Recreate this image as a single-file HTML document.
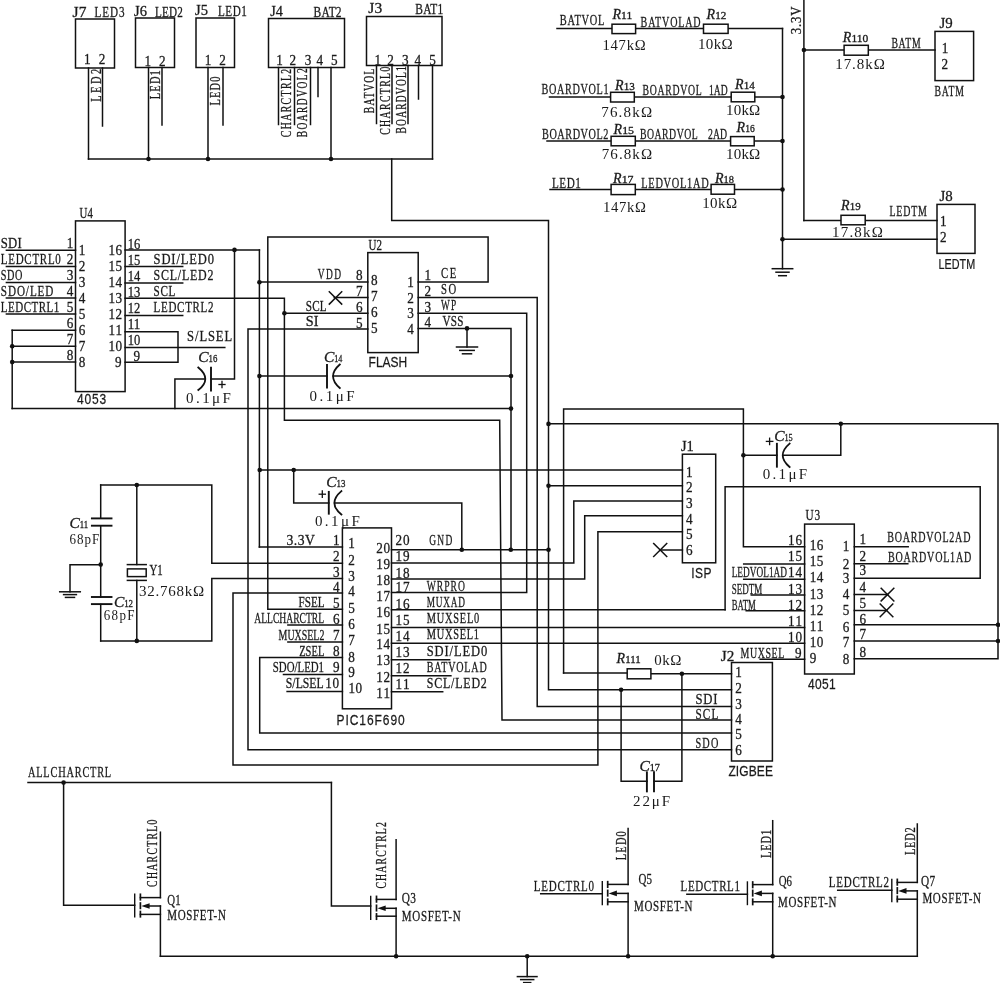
<!DOCTYPE html>
<html><head><meta charset="utf-8"><style>
html,body{margin:0;padding:0;background:#fff;}
svg{display:block;will-change:transform;}
</style></head><body>
<svg width="1000" height="983" viewBox="0 0 1000 983">
<rect x="0" y="0" width="1000" height="983" fill="#fff"/>
<g fill="none" stroke="#111" stroke-width="1.5" stroke-linecap="square">
<rect x="75.5" y="19" width="39" height="49"/>
<rect x="135.5" y="18" width="39" height="49.5"/>
<rect x="196" y="18" width="38.5" height="49.5"/>
<rect x="268.5" y="18.5" width="76" height="49"/>
<rect x="366.5" y="16.5" width="75.5" height="49"/>
<path d="M88.5 68 L88.5 159"/>
<path d="M102.5 68 L102.5 126"/>
<path d="M148.5 67.5 L148.5 159"/>
<path d="M162 67.5 L162 125"/>
<path d="M208 67.5 L208 159"/>
<path d="M223 67.5 L223 125"/>
<path d="M278.5 67.5 L278.5 124.5"/>
<path d="M294.5 67.5 L294.5 124.5"/>
<path d="M310.5 67.5 L310.5 124.5"/>
<path d="M318 67.5 L318 96.5"/>
<path d="M331 67.5 L331 159"/>
<path d="M376.5 65.5 L376.5 123.5"/>
<path d="M392 65.5 L392 123.5"/>
<path d="M408 65.5 L408 123.5"/>
<path d="M418.5 65.5 L418.5 99"/>
<path d="M432.5 65.5 L432.5 159"/>
<path d="M88.5 159 L432.5 159"/>
<circle cx="148.5" cy="159" r="2.3" fill="#111" stroke="none"/>
<circle cx="208" cy="159" r="2.3" fill="#111" stroke="none"/>
<circle cx="331" cy="159" r="2.3" fill="#111" stroke="none"/>
<path d="M391.7 159 L391.7 220.5 L548.5 220.5 L548.5 689.7 L731.5 689.7"/>
<circle cx="548.5" cy="423.9" r="2.3" fill="#111" stroke="none"/>
<circle cx="548.5" cy="485.7" r="2.3" fill="#111" stroke="none"/>
<circle cx="548.5" cy="549.8" r="2.3" fill="#111" stroke="none"/>
<circle cx="621.1" cy="689.7" r="2.3" fill="#111" stroke="none"/>
<path d="M557 28.5 L782.5 28.5"/>
<path d="M782.5 28.5 L782.5 268.7"/>
<path d="M772.3 268.7 L792.7 268.7"/>
<path d="M776 272.2 L789 272.2"/>
<path d="M778.7 275.7 L786.3 275.7"/>
<path d="M549.5 97 L782.5 97"/>
<circle cx="782.5" cy="97" r="2.3" fill="#111" stroke="none"/>
<path d="M547 141 L782.5 141"/>
<circle cx="782.5" cy="141" r="2.3" fill="#111" stroke="none"/>
<path d="M550 189.5 L782.5 189.5"/>
<circle cx="782.5" cy="189.5" r="2.3" fill="#111" stroke="none"/>
<path d="M782.5 239.2 L937 239.2"/>
<circle cx="782.5" cy="239.2" r="2.3" fill="#111" stroke="none"/>
<rect x="612" y="24.2" width="23.6" height="9.4" fill="#fff"/>
<rect x="703.5" y="24.2" width="24.6" height="9.2" fill="#fff"/>
<rect x="610.6" y="92.3" width="23.7" height="9.7" fill="#fff"/>
<rect x="731.2" y="92.2" width="23.6" height="9.6" fill="#fff"/>
<rect x="611.1" y="136.3" width="24.2" height="9.5" fill="#fff"/>
<rect x="730.6" y="136.6" width="23.6" height="9.2" fill="#fff"/>
<rect x="611.1" y="184.4" width="24.2" height="10.2" fill="#fff"/>
<rect x="711.1" y="184.4" width="23.4" height="9.8" fill="#fff"/>
<path d="M803.9 0 L803.9 220.6"/>
<circle cx="803.9" cy="50" r="2.3" fill="#111" stroke="none"/>
<path d="M803.9 50 L935 50"/>
<rect x="844.1" y="45.3" width="24.2" height="9.9" fill="#fff"/>
<path d="M803.9 220.6 L937 220.6"/>
<rect x="841" y="215.3" width="24.2" height="9.5" fill="#fff"/>
<rect x="935" y="31.4" width="38.6" height="49.2"/>
<rect x="937" y="204.4" width="38" height="49"/>
<rect x="75.5" y="220.9" width="49.6" height="170.7"/>
<path d="M6.4 250.2 L75.5 250.2"/>
<path d="M6.4 266.6 L75.5 266.6"/>
<path d="M6.4 282.4 L75.5 282.4"/>
<path d="M6.4 298 L75.5 298"/>
<path d="M6.4 314 L75.5 314"/>
<path d="M12.2 330.2 L75.5 330.2"/>
<path d="M12.2 346.2 L75.5 346.2"/>
<path d="M12.2 362.1 L75.5 362.1"/>
<path d="M12.2 330.2 L12.2 408.6"/>
<circle cx="12.2" cy="346.2" r="2.3" fill="#111" stroke="none"/>
<circle cx="12.2" cy="362.1" r="2.3" fill="#111" stroke="none"/>
<path d="M12.2 408.6 L511 408.6"/>
<circle cx="511" cy="408.6" r="2.3" fill="#111" stroke="none"/>
<path d="M125.1 249.9 L259.4 249.9"/>
<path d="M125.1 266.6 L182.7 266.6"/>
<path d="M125.1 282.9 L182.7 282.9"/>
<path d="M125.1 315.6 L182.7 315.6"/>
<path d="M125.1 298.2 L284.4 298.2 L284.4 420.2 L499.7 420.2 L502 720.1 L731.5 720.1"/>
<path d="M125.1 331.7 L178 331.7 L178 362.2 L125.1 362.2"/>
<path d="M125.1 347.4 L224.8 347.4"/>
<circle cx="234.5" cy="249.9" r="2.3" fill="#111" stroke="none"/>
<path d="M234.5 249.9 L234.5 379 L211 379"/>
<path d="M211 367.8 L211 390.5" stroke-width="1.9"/>
<path d="M198.3 367.5 Q212.3 379 198.3 390" stroke-width="1.8"/>
<path d="M205 379 L174.9 379 L174.9 408.6"/>
<path d="M259.4 249.9 L259.4 547"/>
<circle cx="259.4" cy="282.3" r="2.3" fill="#111" stroke="none"/>
<circle cx="259.4" cy="376.1" r="2.3" fill="#111" stroke="none"/>
<circle cx="259.7" cy="470" r="2.3" fill="#111" stroke="none"/>
<rect x="367.8" y="252.6" width="50.4" height="100"/>
<path d="M259.4 281.9 L367.8 281.9"/>
<path d="M334.3 297.4 L367.8 297.4"/>
<path d="M329.3 291.7 L341.7 304.1"/>
<path d="M329.3 304.1 L341.7 291.7"/>
<path d="M284.4 313.2 L367.8 313.2"/>
<circle cx="284.4" cy="313.2" r="2.3" fill="#111" stroke="none"/>
<path d="M367.8 329 L248 329 L248 749.8 L731.5 749.8"/>
<path d="M418.2 281.9 L488.1 281.9 L488.1 236.9 L267.8 236.9 L267.8 609.2 L342.4 609.2"/>
<path d="M418.2 297.4 L537.2 297.4 L537.2 706.5 L731.5 706.5"/>
<path d="M418.2 313.2 L526.7 313.2 L526.7 592.5 L391.5 592.5"/>
<path d="M418.2 328.4 L511 328.4 L511 549.8"/>
<circle cx="467" cy="328.4" r="2.3" fill="#111" stroke="none"/>
<path d="M467 328.4 L467 347"/>
<path d="M456.5 347 L477.5 347"/>
<path d="M459.8 350.4 L474.2 350.4"/>
<path d="M462.5 353.8 L471.5 353.8"/>
<path d="M259.4 376 L327 376"/>
<path d="M327 365 L327 387.5" stroke-width="1.9"/>
<path d="M339.8 364.5 Q326.3 376.2 339.8 388" stroke-width="1.8"/>
<path d="M333.2 376 L511 376"/>
<circle cx="511" cy="376" r="2.3" fill="#111" stroke="none"/>
<path d="M563.6 673 L563.6 409 L743.4 409 L743.4 546.7 L804.6 546.7"/>
<path d="M563.6 673 L627.2 673"/>
<path d="M548.5 423.8 L998 423.8 L998 658.7 L854.3 658.7"/>
<circle cx="998" cy="624.8" r="2.3" fill="#111" stroke="none"/>
<circle cx="998" cy="641" r="2.3" fill="#111" stroke="none"/>
<circle cx="840.8" cy="423.8" r="2.3" fill="#111" stroke="none"/>
<path d="M840.8 423.8 L840.8 455.3 L783 455.3"/>
<circle cx="743.4" cy="455.3" r="2.3" fill="#111" stroke="none"/>
<path d="M743.4 455.3 L776.9 455.3"/>
<path d="M776.9 443.8 L776.9 466.7" stroke-width="1.9"/>
<path d="M789.6 443.6 Q775.8 455.3 789.6 467" stroke-width="1.8"/>
<path d="M259.7 470 L682.4 470"/>
<circle cx="293.7" cy="470" r="2.3" fill="#111" stroke="none"/>
<path d="M548.5 485.7 L682.4 485.7"/>
<path d="M725.1 609.8 L725.1 486.8 L980.2 486.8 L980.2 578.2 L854.3 578.2"/>
<path d="M682.4 501 L573.8 501 L573.8 563 L391.5 563"/>
<path d="M682.4 515.7 L584.7 515.7 L584.7 578.9 L391.5 578.9"/>
<path d="M682.4 531.7 L597.9 531.7 L597.9 765 L233 765 L233 592.9 L342.4 592.9"/>
<path d="M660.2 550 L682.4 550"/>
<path d="M653.7 543.5 L666.7 556.5"/>
<path d="M653.7 556.5 L666.7 543.5"/>
<rect x="682.4" y="454.2" width="33.3" height="108.6"/>
<path d="M293.7 470 L293.7 503.1 L328.8 503.1"/>
<path d="M328.8 491.9 L328.8 513.7" stroke-width="1.9"/>
<path d="M341.4 491.1 Q327.4 503 341.4 514.5" stroke-width="1.8"/>
<path d="M334.6 503.1 L461.8 503.1 L461.8 549.8"/>
<circle cx="461.8" cy="549.8" r="2.3" fill="#111" stroke="none"/>
<circle cx="510.8" cy="549.8" r="2.3" fill="#111" stroke="none"/>
<path d="M391.5 549.8 L548.5 549.8"/>
<rect x="342.4" y="527.9" width="49.1" height="180.9"/>
<path d="M259.4 547 L342.4 547"/>
<path d="M100.7 485 L211.8 485 L211.8 563.3 L342.4 563.3"/>
<path d="M100.7 640.9 L211.8 640.9 L211.8 578.6 L342.4 578.6"/>
<path d="M287.9 625 L342.4 625"/>
<path d="M287.9 642 L342.4 642"/>
<path d="M342.4 657.5 L259.7 657.5 L259.7 733 L731.5 733"/>
<path d="M283.5 674.6 L342.4 674.6"/>
<path d="M287.1 691.4 L342.4 691.4"/>
<path d="M391.5 609.8 L725.1 609.8"/>
<path d="M391.5 627.4 L804.6 627.4"/>
<path d="M391.5 643.3 L804.6 643.3"/>
<path d="M391.5 659.7 L449.6 659.7"/>
<path d="M391.5 675.7 L450.9 675.7"/>
<path d="M391.5 691.7 L442.7 691.7"/>
<rect x="804.6" y="524.1" width="49.7" height="149.9"/>
<path d="M743.7 564 L804.6 564"/>
<path d="M743.7 579.2 L804.6 579.2"/>
<path d="M751.3 595 L804.6 595"/>
<path d="M746.2 610.8 L804.6 610.8"/>
<path d="M760.2 659.2 L804.6 659.2"/>
<path d="M854.3 546.7 L908.2 546.7"/>
<path d="M854.3 563.8 L907.8 563.8"/>
<path d="M854.3 594.6 L887.5 594.6"/>
<path d="M881.2 588.3 L893.8 600.9"/>
<path d="M881.2 600.9 L893.8 588.3"/>
<path d="M854.3 610.4 L886.5 610.4"/>
<path d="M880.2 604.1 L892.8 616.7"/>
<path d="M880.2 616.7 L892.8 604.1"/>
<path d="M854.3 624.8 L998 624.8"/>
<path d="M854.3 641 L998 641"/>
<rect x="731.5" y="662.5" width="40.9" height="98.5"/>
<path d="M650.9 673.7 L731.5 673.7"/>
<circle cx="681.9" cy="673.7" r="2.3" fill="#111" stroke="none"/>
<rect x="627.2" y="668.8" width="23.7" height="10" fill="#fff"/>
<path d="M621.1 689.7 L621.1 781.3 L647 781.3"/>
<path d="M646.9 772.3 L646.9 791.4" stroke-width="1.9"/>
<path d="M654 772.3 L654 791.4" stroke-width="1.9"/>
<path d="M654.2 781.3 L681.9 781.3 L681.9 673.7"/>
<path d="M100.7 485 L100.7 518.1"/>
<path d="M91.9 518.4 L111.5 518.4" stroke-width="1.9"/>
<path d="M91.9 525.7 L111.5 525.7" stroke-width="1.9"/>
<path d="M100.7 526 L100.7 597.2"/>
<circle cx="100.7" cy="564.6" r="2.3" fill="#111" stroke="none"/>
<path d="M100.7 564.8 L70 564.8 L70 591.8"/>
<path d="M59.7 591.8 L80.3 591.8"/>
<path d="M63.6 594.6 L76.4 594.6"/>
<path d="M65.5 597.4 L74.5 597.4"/>
<path d="M91.9 597 L111.5 597" stroke-width="1.9"/>
<path d="M91.9 604.1 L111.5 604.1" stroke-width="1.9"/>
<path d="M100.7 604.5 L100.7 640.9"/>
<circle cx="136.8" cy="485" r="2.3" fill="#111" stroke="none"/>
<circle cx="136.8" cy="640.9" r="2.3" fill="#111" stroke="none"/>
<path d="M136.8 485 L136.8 564.6"/>
<path d="M127.4 564.6 L146.2 564.6"/>
<rect x="127.4" y="568.9" width="18.8" height="7.7"/>
<path d="M127.4 580.4 L146.2 580.4"/>
<path d="M136.8 580.4 L136.8 640.9"/>
<path d="M28 782.6 L331.4 782.6"/>
<circle cx="63.6" cy="782.6" r="2.3" fill="#111" stroke="none"/>
<path d="M331.4 782.6 L331.4 906 L370.7 906"/>
<path d="M63.6 782.6 L63.6 905.3 L134.7 905.3"/>
<path d="M160.4 956.3 L917.3 956.3"/>
<path d="M134.7 894.3 L134.7 916.8" stroke-width="1.4"/>
<path d="M140.4 894.3 L140.4 899.8" stroke-width="1.7"/>
<path d="M140.4 903 L140.4 908.4" stroke-width="1.7"/>
<path d="M140.4 911.5 L140.4 916.8" stroke-width="1.7"/>
<path d="M140.4 897.6 L160.4 897.6"/>
<path d="M148.4 906 L160.4 906"/>
<path d="M140.4 914.4 L160.4 914.4"/>
<path d="M160.4 832.2 L160.4 897.6"/>
<path d="M160.4 906 L160.4 956.3"/>
<path d="M141.3 906 L149.6 903.2 L149.6 908.8 Z" fill="#111" stroke="none"/>
<path d="M370.7 896.4 L370.7 919.2" stroke-width="1.4"/>
<path d="M376.5 896.4 L376.5 901.9" stroke-width="1.7"/>
<path d="M376.5 905.3 L376.5 910.7" stroke-width="1.7"/>
<path d="M376.5 913.9 L376.5 919.2" stroke-width="1.7"/>
<path d="M376.5 899.4 L396.1 899.4"/>
<path d="M384.5 908.3 L396.1 908.3"/>
<path d="M376.5 916.2 L396.1 916.2"/>
<path d="M396.1 839.8 L396.1 899.4"/>
<path d="M396.1 908.3 L396.1 956.3"/>
<path d="M377.4 908.3 L385.7 905.5 L385.7 911.1 Z" fill="#111" stroke="none"/>
<circle cx="396.1" cy="956.3" r="2.3" fill="#111" stroke="none"/>
<path d="M602.3 881.7 L602.3 904.5" stroke-width="1.4"/>
<path d="M607.7 881.7 L607.7 887.2" stroke-width="1.7"/>
<path d="M607.7 890.4 L607.7 895.8" stroke-width="1.7"/>
<path d="M607.7 899.2 L607.7 904.5" stroke-width="1.7"/>
<path d="M607.7 884.4 L628.1 884.4"/>
<path d="M615.7 893.4 L628.1 893.4"/>
<path d="M607.7 901.8 L628.1 901.8"/>
<path d="M628.1 828.4 L628.1 884.4"/>
<path d="M628.1 893.4 L628.1 956.3"/>
<path d="M608.6 893.4 L616.9 890.6 L616.9 896.2 Z" fill="#111" stroke="none"/>
<circle cx="628.1" cy="956.3" r="2.3" fill="#111" stroke="none"/>
<path d="M747.4 882 L747.4 904.5" stroke-width="1.4"/>
<path d="M752.7 882 L752.7 887.5" stroke-width="1.7"/>
<path d="M752.7 890.4 L752.7 895.8" stroke-width="1.7"/>
<path d="M752.7 899.2 L752.7 904.5" stroke-width="1.7"/>
<path d="M752.7 884.6 L772.7 884.6"/>
<path d="M760.7 893.4 L772.7 893.4"/>
<path d="M752.7 901.8 L772.7 901.8"/>
<path d="M772.7 820.7 L772.7 884.6"/>
<path d="M772.7 893.4 L772.7 956.3"/>
<path d="M753.6 893.4 L761.9 890.6 L761.9 896.2 Z" fill="#111" stroke="none"/>
<circle cx="772.7" cy="956.3" r="2.3" fill="#111" stroke="none"/>
<path d="M891.8 879.4 L891.8 901.6" stroke-width="1.4"/>
<path d="M897.3 879.4 L897.3 884.9" stroke-width="1.7"/>
<path d="M897.3 887.9 L897.3 893.3" stroke-width="1.7"/>
<path d="M897.3 896.3 L897.3 901.6" stroke-width="1.7"/>
<path d="M897.3 882.4 L917.3 882.4"/>
<path d="M905.3 890.9 L917.3 890.9"/>
<path d="M897.3 899.2 L917.3 899.2"/>
<path d="M917.3 824 L917.3 882.4"/>
<path d="M917.3 890.9 L917.3 956.3"/>
<path d="M898.2 890.9 L906.5 888.1 L906.5 893.7 Z" fill="#111" stroke="none"/>
<path d="M540.7 893.7 L602.3 893.7"/>
<path d="M686.9 894.3 L747.4 894.3"/>
<path d="M837.7 890.3 L891.8 890.3"/>
<circle cx="527.2" cy="956.3" r="2.3" fill="#111" stroke="none"/>
<path d="M527.2 956.3 L527.2 976.6"/>
<path d="M517.4 976.6 L537 976.6"/>
<path d="M520.7 979.6 L533.7 979.6"/>
<path d="M523.7 982.6 L530.7 982.6"/>
<path d="M219 384.5 L225 384.5" stroke-width="1.3"/>
<path d="M222 381.5 L222 387.5" stroke-width="1.3"/>
<path d="M319.2 494.2 L325.4 494.2" stroke-width="1.3"/>
<path d="M322.3 491 L322.3 497.4" stroke-width="1.3"/>
<path d="M766.4 441.4 L772.8 441.4" stroke-width="1.3"/>
<path d="M769.6 438.2 L769.6 444.6" stroke-width="1.3"/>
</g>
<g fill="#1a1a1a" font-family="Liberation Serif" stroke="#1a1a1a" stroke-width="0.3">
<text transform="translate(72.5 16.5) scale(1 1)" font-size="15.5" textLength="14" lengthAdjust="spacing">J7</text>
<text transform="translate(94.6 17.3) scale(0.72 1)" font-size="15.5" textLength="41.56" lengthAdjust="spacing">LED3</text>
<text transform="translate(134 15.5) scale(0.94 1)" font-size="15.5" textLength="13.78" lengthAdjust="spacing">J6</text>
<text transform="translate(155 16.5) scale(0.72 1)" font-size="15.5" textLength="38.66" lengthAdjust="spacing">LED2</text>
<text transform="translate(195 14.8) scale(0.94 1)" font-size="15.5" textLength="13.78" lengthAdjust="spacing">J5</text>
<text transform="translate(218 15.8) scale(0.72 1)" font-size="15.5" textLength="40.04" lengthAdjust="spacing">LED1</text>
<text transform="translate(270.3 15.8) scale(0.92 1)" font-size="15.5" textLength="13.78" lengthAdjust="spacing">J4</text>
<text transform="translate(313.6 16.5) scale(0.74 1)" font-size="15.5" textLength="37.8" lengthAdjust="spacing">BAT2</text>
<text transform="translate(368.3 12.7) scale(1 1)" font-size="15.5" textLength="13.9" lengthAdjust="spacing">J3</text>
<text transform="translate(415.3 14) scale(0.74 1)" font-size="15.5" textLength="37.8" lengthAdjust="spacing">BAT1</text>
<text transform="translate(84 63.6) scale(0.85 1)" font-size="15.5">1</text>
<text transform="translate(98.7 63.6) scale(0.85 1)" font-size="15.5">2</text>
<text transform="translate(144.5 66.2) scale(0.85 1)" font-size="15.5">1</text>
<text transform="translate(159 66.2) scale(0.85 1)" font-size="15.5">2</text>
<text transform="translate(204.8 65.4) scale(0.85 1)" font-size="15.5">1</text>
<text transform="translate(219.2 65.4) scale(0.85 1)" font-size="15.5">2</text>
<text transform="translate(276.2 64.9) scale(0.85 1)" font-size="15.5">1</text>
<text transform="translate(289.4 64.9) scale(0.85 1)" font-size="15.5">2</text>
<text transform="translate(304.7 64.9) scale(0.85 1)" font-size="15.5">3</text>
<text transform="translate(316.6 64.9) scale(0.85 1)" font-size="15.5">4</text>
<text transform="translate(330.9 64.9) scale(0.85 1)" font-size="15.5">5</text>
<text transform="translate(374.6 64.9) scale(0.85 1)" font-size="15.5">1</text>
<text transform="translate(387.3 64.9) scale(0.85 1)" font-size="15.5">2</text>
<text transform="translate(402 64.9) scale(0.85 1)" font-size="15.5">3</text>
<text transform="translate(414.5 64.9) scale(0.85 1)" font-size="15.5">4</text>
<text transform="translate(429.3 64.9) scale(0.85 1)" font-size="15.5">5</text>
<text transform="translate(100.5 101.8) rotate(-90) scale(0.72 1)" font-size="14.5" textLength="45.7" lengthAdjust="spacing">LED2</text>
<text transform="translate(160.2 99.2) rotate(-90) scale(0.72 1)" font-size="14.5" textLength="40.31" lengthAdjust="spacing">LED1</text>
<text transform="translate(220.2 105.5) rotate(-90) scale(0.72 1)" font-size="14.5" textLength="40.31" lengthAdjust="spacing">LED0</text>
<text transform="translate(291 137.3) rotate(-90) scale(0.68 1)" font-size="14.5" textLength="100.81" lengthAdjust="spacing">CHARCTRL2</text>
<text transform="translate(307.3 137.3) rotate(-90) scale(0.66 1)" font-size="14.5" textLength="104.64" lengthAdjust="spacing">BOARDVOL2</text>
<text transform="translate(374.3 113.2) rotate(-90) scale(0.67 1)" font-size="14.5" textLength="66.49" lengthAdjust="spacing">BATVOL</text>
<text transform="translate(389.5 134.8) rotate(-90) scale(0.68 1)" font-size="14.5" textLength="100.22" lengthAdjust="spacing">CHARCTRL0</text>
<text transform="translate(406 133.5) rotate(-90) scale(0.66 1)" font-size="14.5" textLength="102.05" lengthAdjust="spacing">BOARDVOL1</text>
<text transform="translate(559.8 25.4) scale(0.67 1)" font-size="15.5" textLength="66.49" lengthAdjust="spacing">BATVOL</text>
<text x="612.4" y="19.3" font-size="14" font-style="italic">R</text>
<text x="621.08" y="19.3" font-size="10.5" textLength="11.12" lengthAdjust="spacingAndGlyphs">11</text>
<text transform="translate(640.6 26.5) scale(0.65 1)" font-size="15.5" textLength="92.31" lengthAdjust="spacing">BATVOLAD</text>
<text x="706.5" y="19.3" font-size="14" font-style="italic">R</text>
<text x="715.18" y="19.3" font-size="10.5" textLength="11.12" lengthAdjust="spacingAndGlyphs">12</text>
<text transform="translate(602.5 49.9) scale(0.98 1)" font-size="15" stroke-width="0" textLength="44.05" lengthAdjust="spacing">147kΩ</text>
<text transform="translate(697.9 48.6) scale(1 1)" font-size="15" stroke-width="0" textLength="34.85" lengthAdjust="spacing">10kΩ</text>
<text transform="translate(541.5 94.1) scale(0.66 1)" font-size="15.5" textLength="101.59" lengthAdjust="spacing">BOARDVOL1</text>
<text x="615" y="90.4" font-size="14" font-style="italic">R</text>
<text x="623.68" y="90.4" font-size="10.5" textLength="11.12" lengthAdjust="spacingAndGlyphs">13</text>
<text transform="translate(642.6 94.5) scale(0.63 1)" font-size="15.5" textLength="93.91" lengthAdjust="spacing">BOARDVOL</text>
<text transform="translate(709 94.5) scale(0.62 1)" font-size="15.5" textLength="30.14" lengthAdjust="spacing">1AD</text>
<text x="735" y="88.8" font-size="14" font-style="italic">R</text>
<text x="743.68" y="88.8" font-size="10.5" textLength="11.12" lengthAdjust="spacingAndGlyphs">14</text>
<text transform="translate(601.2 117.4) scale(1 1)" font-size="15" stroke-width="0" textLength="50.9" lengthAdjust="spacing">76.8kΩ</text>
<text transform="translate(726 115.4) scale(1 1)" font-size="15" stroke-width="0" textLength="34.25" lengthAdjust="spacing">10kΩ</text>
<text transform="translate(542 139.3) scale(0.66 1)" font-size="15.5" textLength="100.68" lengthAdjust="spacing">BOARDVOL2</text>
<text x="613.5" y="134.4" font-size="14" font-style="italic">R</text>
<text x="622.18" y="134.4" font-size="10.5" textLength="11.82" lengthAdjust="spacingAndGlyphs">15</text>
<text transform="translate(640 138.8) scale(0.63 1)" font-size="15.5" textLength="91.54" lengthAdjust="spacing">BOARDVOL</text>
<text transform="translate(708 138.8) scale(0.63 1)" font-size="15.5" textLength="30.14" lengthAdjust="spacing">2AD</text>
<text x="736.6" y="132" font-size="14" font-style="italic">R</text>
<text x="745.28" y="132" font-size="10.5" textLength="9.52" lengthAdjust="spacingAndGlyphs">16</text>
<text transform="translate(601.7 159.3) scale(1 1)" font-size="15" stroke-width="0" textLength="50.4" lengthAdjust="spacing">76.8kΩ</text>
<text transform="translate(726 158.6) scale(1 1)" font-size="15" stroke-width="0" textLength="34.25" lengthAdjust="spacing">10kΩ</text>
<text transform="translate(552.1 187.7) scale(0.72 1)" font-size="15.5" textLength="39.76" lengthAdjust="spacing">LED1</text>
<text x="613" y="183" font-size="14" font-style="italic">R</text>
<text x="621.68" y="183" font-size="10.5" textLength="11.82" lengthAdjust="spacingAndGlyphs">17</text>
<text transform="translate(641.3 187.5) scale(0.67 1)" font-size="15.5" textLength="100.6" lengthAdjust="spacing">LEDVOL1AD</text>
<text x="714.9" y="183" font-size="14" font-style="italic">R</text>
<text x="723.58" y="183" font-size="10.5" textLength="10.42" lengthAdjust="spacingAndGlyphs">18</text>
<text transform="translate(603 211.5) scale(0.98 1)" font-size="15" stroke-width="0" textLength="43.85" lengthAdjust="spacing">147kΩ</text>
<text transform="translate(702.2 207.6) scale(1 1)" font-size="15" stroke-width="0" textLength="34.85" lengthAdjust="spacing">10kΩ</text>
<text transform="translate(800.9 34.3) rotate(-90) scale(0.88 1)" font-size="14.5" textLength="31.62" lengthAdjust="spacing">3.3V</text>
<text x="842.8" y="42.2" font-size="14" font-style="italic">R</text>
<text x="851.48" y="42.2" font-size="10.5" textLength="16.82" lengthAdjust="spacingAndGlyphs">110</text>
<text transform="translate(835.2 69.2) scale(1 1)" font-size="15" stroke-width="0" textLength="49.6" lengthAdjust="spacing">17.8kΩ</text>
<text transform="translate(891.4 48.2) scale(0.63 1)" font-size="15.5" textLength="46.41" lengthAdjust="spacing">BATM</text>
<text transform="translate(939.5 27.5) scale(0.96 1)" font-size="15.5" textLength="13.78" lengthAdjust="spacing">J9</text>
<text transform="translate(941.8 52.6) scale(0.85 1)" font-size="15.5">1</text>
<text transform="translate(941.5 68.6) scale(0.85 1)" font-size="15.5">2</text>
<text transform="translate(934.6 95.6) scale(0.63 1)" font-size="15.5" textLength="46.41" lengthAdjust="spacing">BATM</text>
<text x="841" y="210" font-size="14" font-style="italic">R</text>
<text x="849.68" y="210" font-size="10.5" textLength="10.92" lengthAdjust="spacingAndGlyphs">19</text>
<text transform="translate(832.1 237.4) scale(1 1)" font-size="15" stroke-width="0" textLength="50.7" lengthAdjust="spacing">17.8kΩ</text>
<text transform="translate(889.4 216.4) scale(0.64 1)" font-size="15.5" textLength="58.54" lengthAdjust="spacing">LEDTM</text>
<text transform="translate(939.4 200.8) scale(0.96 1)" font-size="15.5" textLength="13.78" lengthAdjust="spacing">J8</text>
<text transform="translate(940 226) scale(0.85 1)" font-size="15.5">1</text>
<text transform="translate(940 242.2) scale(0.85 1)" font-size="15.5">2</text>
<text transform="translate(938.6 268.8) scale(0.72 1)" font-size="15" font-family="Liberation Sans" stroke="#1a1a1a" stroke-width="0.25" textLength="50.84" lengthAdjust="spacing">LEDTM</text>
<text transform="translate(79.6 217.8) scale(0.7 1)" font-size="15.5" textLength="18.94" lengthAdjust="spacing">U4</text>
<text transform="translate(77 403.7) scale(0.8 1)" font-size="15" font-family="Liberation Sans" stroke="#1a1a1a" stroke-width="0.25" textLength="36.62" lengthAdjust="spacing">4053</text>
<text transform="translate(0.8 248.3) scale(0.82 1)" font-size="15.5" textLength="25.39" lengthAdjust="spacing">SDI</text>
<text transform="translate(0.8 264.3) scale(0.71 1)" font-size="15.5" textLength="84.55" lengthAdjust="spacing">LEDCTRL0</text>
<text transform="translate(0.8 280.3) scale(0.66 1)" font-size="15.5" textLength="32.73" lengthAdjust="spacing">SDO</text>
<text transform="translate(0.8 296) scale(0.72 1)" font-size="15.5" textLength="73.05" lengthAdjust="spacing">SDO/LED</text>
<text transform="translate(0.8 311.8) scale(0.71 1)" font-size="15.5" textLength="82.43" lengthAdjust="spacing">LEDCTRL1</text>
<text transform="translate(66.8 248.3) scale(0.85 1)" font-size="15.5">1</text>
<text transform="translate(78.8 255.3) scale(0.85 1)" font-size="15.5">1</text>
<text transform="translate(66.8 264.3) scale(0.85 1)" font-size="15.5">2</text>
<text transform="translate(78.8 271.3) scale(0.85 1)" font-size="15.5">2</text>
<text transform="translate(66.8 280.3) scale(0.85 1)" font-size="15.5">3</text>
<text transform="translate(78.8 287.3) scale(0.85 1)" font-size="15.5">3</text>
<text transform="translate(66.8 296) scale(0.85 1)" font-size="15.5">4</text>
<text transform="translate(78.8 303) scale(0.85 1)" font-size="15.5">4</text>
<text transform="translate(66.8 311.8) scale(0.85 1)" font-size="15.5">5</text>
<text transform="translate(78.8 318.8) scale(0.85 1)" font-size="15.5">5</text>
<text transform="translate(66.8 327.5) scale(0.85 1)" font-size="15.5">6</text>
<text transform="translate(78.8 334.5) scale(0.85 1)" font-size="15.5">6</text>
<text transform="translate(66.8 343.5) scale(0.85 1)" font-size="15.5">7</text>
<text transform="translate(78.8 350.5) scale(0.85 1)" font-size="15.5">7</text>
<text transform="translate(66.8 359.5) scale(0.85 1)" font-size="15.5">8</text>
<text transform="translate(78.8 366.5) scale(0.85 1)" font-size="15.5">8</text>
<text transform="translate(127.7 249.3) scale(0.81 1)" font-size="15.5" textLength="15.5" lengthAdjust="spacing">16</text>
<text transform="translate(108.5 255.3) scale(0.85 1)" font-size="15.5" textLength="15.88" lengthAdjust="spacing">16</text>
<text transform="translate(127.7 265) scale(0.81 1)" font-size="15.5" textLength="15.5" lengthAdjust="spacing">15</text>
<text transform="translate(108.5 271) scale(0.85 1)" font-size="15.5" textLength="15.88" lengthAdjust="spacing">15</text>
<text transform="translate(127.7 281) scale(0.81 1)" font-size="15.5" textLength="15.5" lengthAdjust="spacing">14</text>
<text transform="translate(108.5 287) scale(0.85 1)" font-size="15.5" textLength="15.88" lengthAdjust="spacing">14</text>
<text transform="translate(127.7 297) scale(0.81 1)" font-size="15.5" textLength="15.5" lengthAdjust="spacing">13</text>
<text transform="translate(108.5 303) scale(0.85 1)" font-size="15.5" textLength="15.88" lengthAdjust="spacing">13</text>
<text transform="translate(127.7 313) scale(0.81 1)" font-size="15.5" textLength="15.5" lengthAdjust="spacing">12</text>
<text transform="translate(108.5 319) scale(0.85 1)" font-size="15.5" textLength="15.88" lengthAdjust="spacing">12</text>
<text transform="translate(127.7 329) scale(0.84 1)" font-size="15.5" textLength="14.93" lengthAdjust="spacing">11</text>
<text transform="translate(108.5 335) scale(0.85 1)" font-size="15.5" textLength="15.88" lengthAdjust="spacing">11</text>
<text transform="translate(127.7 345) scale(0.81 1)" font-size="15.5" textLength="15.5" lengthAdjust="spacing">10</text>
<text transform="translate(108.5 351) scale(0.85 1)" font-size="15.5" textLength="15.88" lengthAdjust="spacing">10</text>
<text transform="translate(133.5 361) scale(0.85 1)" font-size="15.5">9</text>
<text transform="translate(115 367) scale(0.85 1)" font-size="15.5">9</text>
<text transform="translate(153.6 263.8) scale(0.81 1)" font-size="15.5" textLength="74.49" lengthAdjust="spacing">SDI/LED0</text>
<text transform="translate(153.6 280) scale(0.77 1)" font-size="15.5" textLength="77.8" lengthAdjust="spacing">SCL/LED2</text>
<text transform="translate(153.6 296) scale(0.72 1)" font-size="15.5" textLength="30.15" lengthAdjust="spacing">SCL</text>
<text transform="translate(153.6 312.3) scale(0.71 1)" font-size="15.5" textLength="84.41" lengthAdjust="spacing">LEDCTRL2</text>
<text transform="translate(187.1 340.9) scale(0.81 1)" font-size="15.5" textLength="55.52" lengthAdjust="spacing">S/LSEL</text>
<text x="198.3" y="362.2" font-size="15.5" font-style="italic">C</text>
<text x="208.53" y="362.2" font-size="11" textLength="8.77" lengthAdjust="spacingAndGlyphs">16</text>
<text transform="translate(186.1 403.2) scale(1 1)" font-size="15" stroke-width="0" textLength="44.8" lengthAdjust="spacing">0.1μF</text>
<text transform="translate(368.6 249.6) scale(0.71 1)" font-size="15.5" textLength="18.94" lengthAdjust="spacing">U2</text>
<text transform="translate(368.6 366.9) scale(0.8 1)" font-size="15" font-family="Liberation Sans" stroke="#1a1a1a" stroke-width="0.25" textLength="48.37" lengthAdjust="spacing">FLASH</text>
<text transform="translate(317.7 279) scale(0.61 1)" font-size="15.5" textLength="38.41" lengthAdjust="spacing">VDD</text>
<text transform="translate(305.8 310.7) scale(0.72 1)" font-size="15.5" textLength="28.9" lengthAdjust="spacing">SCL</text>
<text transform="translate(305.8 326.4) scale(0.92 1)" font-size="15.5" textLength="13.78" lengthAdjust="spacing">SI</text>
<text transform="translate(356 280) scale(0.85 1)" font-size="15.5">8</text>
<text transform="translate(371 285) scale(0.85 1)" font-size="15.5">8</text>
<text transform="translate(356 296) scale(0.85 1)" font-size="15.5">7</text>
<text transform="translate(371 301) scale(0.85 1)" font-size="15.5">7</text>
<text transform="translate(356 312) scale(0.85 1)" font-size="15.5">6</text>
<text transform="translate(371 317) scale(0.85 1)" font-size="15.5">6</text>
<text transform="translate(356 327.5) scale(0.85 1)" font-size="15.5">5</text>
<text transform="translate(371 332.5) scale(0.85 1)" font-size="15.5">5</text>
<text transform="translate(424.6 280) scale(0.85 1)" font-size="15.5">1</text>
<text transform="translate(407.3 286.8) scale(0.85 1)" font-size="15.5">1</text>
<text transform="translate(424.6 296) scale(0.85 1)" font-size="15.5">2</text>
<text transform="translate(407.3 302.8) scale(0.85 1)" font-size="15.5">2</text>
<text transform="translate(424.6 311.5) scale(0.85 1)" font-size="15.5">3</text>
<text transform="translate(407.3 318.3) scale(0.85 1)" font-size="15.5">3</text>
<text transform="translate(424.6 327) scale(0.85 1)" font-size="15.5">4</text>
<text transform="translate(407.3 333.8) scale(0.85 1)" font-size="15.5">4</text>
<text transform="translate(441.1 278.3) scale(0.69 1)" font-size="15.5" textLength="22.07" lengthAdjust="spacing">CE</text>
<text transform="translate(441.1 294.3) scale(0.69 1)" font-size="15.5" textLength="22.08" lengthAdjust="spacing">SO</text>
<text transform="translate(441.1 310.3) scale(0.6 1)" font-size="15.5" textLength="25.33" lengthAdjust="spacing">WP</text>
<text transform="translate(442.4 326.2) scale(0.72 1)" font-size="15.5" textLength="29.32" lengthAdjust="spacing">VSS</text>
<text x="324.1" y="361.5" font-size="15.5" font-style="italic">C</text>
<text x="334.33" y="361.5" font-size="11" textLength="8.07" lengthAdjust="spacingAndGlyphs">14</text>
<text transform="translate(309.6 401.4) scale(1 1)" font-size="15" stroke-width="0" textLength="45" lengthAdjust="spacing">0.1μF</text>
<text x="326.3" y="486.5" font-size="15.5" font-style="italic">C</text>
<text x="336.53" y="486.5" font-size="11" textLength="8.87" lengthAdjust="spacingAndGlyphs">13</text>
<text transform="translate(314.9 525.6) scale(1 1)" font-size="15" stroke-width="0" textLength="45" lengthAdjust="spacing">0.1μF</text>
<text x="774.2" y="440.7" font-size="15.5" font-style="italic">C</text>
<text x="784.43" y="440.7" font-size="11" textLength="8.27" lengthAdjust="spacingAndGlyphs">15</text>
<text transform="translate(762.7 479.3) scale(1 1)" font-size="15" stroke-width="0" textLength="44.5" lengthAdjust="spacing">0.1μF</text>
<text transform="translate(681 450.9) scale(0.93 1)" font-size="15.5" textLength="13.78" lengthAdjust="spacing">J1</text>
<text transform="translate(691.3 578.3) scale(0.8 1)" font-size="15" font-family="Liberation Sans" stroke="#1a1a1a" stroke-width="0.25" textLength="25.38" lengthAdjust="spacing">ISP</text>
<text transform="translate(686 476.5) scale(0.85 1)" font-size="15.5">1</text>
<text transform="translate(686 492.3) scale(0.85 1)" font-size="15.5">2</text>
<text transform="translate(686 508) scale(0.85 1)" font-size="15.5">3</text>
<text transform="translate(686 523.5) scale(0.85 1)" font-size="15.5">4</text>
<text transform="translate(686 539) scale(0.85 1)" font-size="15.5">5</text>
<text transform="translate(686 555) scale(0.85 1)" font-size="15.5">6</text>
<text transform="translate(336.6 724.9) scale(0.8 1)" font-size="15" font-family="Liberation Sans" stroke="#1a1a1a" stroke-width="0.25" textLength="85.12" lengthAdjust="spacing">PIC16F690</text>
<text transform="translate(286.4 545) scale(0.88 1)" font-size="15.5" textLength="32.3" lengthAdjust="spacing">3.3V</text>
<text transform="translate(298.5 606.7) scale(0.72 1)" font-size="15.5" textLength="36.17" lengthAdjust="spacing">FSEL</text>
<text transform="translate(254.2 623) scale(0.62 1)" font-size="15.5" textLength="112.81" lengthAdjust="spacing">ALLCHARCTRL</text>
<text transform="translate(278.6 639.5) scale(0.64 1)" font-size="15.5" textLength="71.47" lengthAdjust="spacing">MUXSEL2</text>
<text transform="translate(299.2 655.5) scale(0.68 1)" font-size="15.5" textLength="37.02" lengthAdjust="spacing">ZSEL</text>
<text transform="translate(272.8 671.8) scale(0.7 1)" font-size="15.5" textLength="73.19" lengthAdjust="spacing">SDO/LED1</text>
<text transform="translate(285.8 688) scale(0.76 1)" font-size="15.5" textLength="49.95" lengthAdjust="spacing">S/LSEL</text>
<text transform="translate(333 545) scale(0.85 1)" font-size="15.5">1</text>
<text transform="translate(348.3 548.3) scale(0.85 1)" font-size="15.5">1</text>
<text transform="translate(333 561) scale(0.85 1)" font-size="15.5">2</text>
<text transform="translate(348.3 564.8) scale(0.85 1)" font-size="15.5">2</text>
<text transform="translate(333 577) scale(0.85 1)" font-size="15.5">3</text>
<text transform="translate(348.3 581.3) scale(0.85 1)" font-size="15.5">3</text>
<text transform="translate(333 592) scale(0.85 1)" font-size="15.5">4</text>
<text transform="translate(348.3 596.4) scale(0.85 1)" font-size="15.5">4</text>
<text transform="translate(333 607.5) scale(0.85 1)" font-size="15.5">5</text>
<text transform="translate(348.3 612.9) scale(0.85 1)" font-size="15.5">5</text>
<text transform="translate(333 623.5) scale(0.85 1)" font-size="15.5">6</text>
<text transform="translate(348.3 628.5) scale(0.85 1)" font-size="15.5">6</text>
<text transform="translate(333 640) scale(0.85 1)" font-size="15.5">7</text>
<text transform="translate(348.3 644.7) scale(0.85 1)" font-size="15.5">7</text>
<text transform="translate(333 656) scale(0.85 1)" font-size="15.5">8</text>
<text transform="translate(348.3 661.5) scale(0.85 1)" font-size="15.5">8</text>
<text transform="translate(333 672) scale(0.85 1)" font-size="15.5">9</text>
<text transform="translate(348.3 677.2) scale(0.85 1)" font-size="15.5">9</text>
<text transform="translate(325.3 688) scale(0.85 1)" font-size="15.5" textLength="16.35" lengthAdjust="spacing">10</text>
<text transform="translate(348.5 693.4) scale(0.85 1)" font-size="15.5" textLength="15.88" lengthAdjust="spacing">10</text>
<text transform="translate(395.5 544.7) scale(0.85 1)" font-size="15.5" textLength="16.71" lengthAdjust="spacing">20</text>
<text transform="translate(376.3 552.9) scale(0.85 1)" font-size="15.5" textLength="16.12" lengthAdjust="spacing">20</text>
<text transform="translate(395.5 560.7) scale(0.85 1)" font-size="15.5" textLength="16.71" lengthAdjust="spacing">19</text>
<text transform="translate(376.3 569.4) scale(0.85 1)" font-size="15.5" textLength="16.12" lengthAdjust="spacing">19</text>
<text transform="translate(395.5 577.6) scale(0.85 1)" font-size="15.5" textLength="16.71" lengthAdjust="spacing">18</text>
<text transform="translate(376.3 585) scale(0.85 1)" font-size="15.5" textLength="16.12" lengthAdjust="spacing">18</text>
<text transform="translate(395.5 592.3) scale(0.85 1)" font-size="15.5" textLength="16.71" lengthAdjust="spacing">17</text>
<text transform="translate(376.3 601.4) scale(0.85 1)" font-size="15.5" textLength="16.12" lengthAdjust="spacing">17</text>
<text transform="translate(395.5 609.2) scale(0.85 1)" font-size="15.5" textLength="16.71" lengthAdjust="spacing">16</text>
<text transform="translate(376.3 617.3) scale(0.85 1)" font-size="15.5" textLength="16.12" lengthAdjust="spacing">16</text>
<text transform="translate(395.5 625) scale(0.85 1)" font-size="15.5" textLength="16.71" lengthAdjust="spacing">15</text>
<text transform="translate(376.3 633.6) scale(0.85 1)" font-size="15.5" textLength="16.12" lengthAdjust="spacing">15</text>
<text transform="translate(395.5 640.5) scale(0.85 1)" font-size="15.5" textLength="16.71" lengthAdjust="spacing">14</text>
<text transform="translate(376.3 649.2) scale(0.85 1)" font-size="15.5" textLength="16.12" lengthAdjust="spacing">14</text>
<text transform="translate(395.5 656.5) scale(0.85 1)" font-size="15.5" textLength="16.71" lengthAdjust="spacing">13</text>
<text transform="translate(376.3 665.4) scale(0.85 1)" font-size="15.5" textLength="16.12" lengthAdjust="spacing">13</text>
<text transform="translate(395.5 672.5) scale(0.85 1)" font-size="15.5" textLength="16.71" lengthAdjust="spacing">12</text>
<text transform="translate(376.3 681.7) scale(0.85 1)" font-size="15.5" textLength="16.12" lengthAdjust="spacing">12</text>
<text transform="translate(395.5 688.5) scale(0.85 1)" font-size="15.5" textLength="16.71" lengthAdjust="spacing">11</text>
<text transform="translate(376.3 698.4) scale(0.85 1)" font-size="15.5" textLength="16.12" lengthAdjust="spacing">11</text>
<text transform="translate(429.3 545) scale(0.61 1)" font-size="15.5" textLength="37.59" lengthAdjust="spacing">GND</text>
<text transform="translate(426.7 590.6) scale(0.62 1)" font-size="15.5" textLength="61.75" lengthAdjust="spacing">WRPRO</text>
<text transform="translate(426.7 606.5) scale(0.6 1)" font-size="15.5" textLength="63.67" lengthAdjust="spacing">MUXAD</text>
<text transform="translate(426.7 623.2) scale(0.67 1)" font-size="15.5" textLength="78.5" lengthAdjust="spacing">MUXSEL0</text>
<text transform="translate(426.7 639) scale(0.67 1)" font-size="15.5" textLength="78.05" lengthAdjust="spacing">MUXSEL1</text>
<text transform="translate(426.7 655.6) scale(0.81 1)" font-size="15.5" textLength="74.86" lengthAdjust="spacing">SDI/LED0</text>
<text transform="translate(426.7 672) scale(0.65 1)" font-size="15.5" textLength="92.31" lengthAdjust="spacing">BATVOLAD</text>
<text transform="translate(426.7 688.3) scale(0.77 1)" font-size="15.5" textLength="78.06" lengthAdjust="spacing">SCL/LED2</text>
<text transform="translate(805.4 519.5) scale(0.73 1)" font-size="15.5" textLength="20.05" lengthAdjust="spacing">U3</text>
<text transform="translate(808 689.2) scale(0.8 1)" font-size="15" font-family="Liberation Sans" stroke="#1a1a1a" stroke-width="0.25" textLength="34.5" lengthAdjust="spacing">4051</text>
<text transform="translate(887.3 541.8) scale(0.65 1)" font-size="15.5" textLength="127.89" lengthAdjust="spacing">BOARDVOL2AD</text>
<text transform="translate(888 561.6) scale(0.65 1)" font-size="15.5" textLength="128.04" lengthAdjust="spacing">BOARDVOL1AD</text>
<text transform="translate(731.7 577) scale(0.6 1)" font-size="15.5" textLength="92.12" lengthAdjust="spacing">LEDVOL1AD</text>
<text transform="translate(731.7 594) scale(0.58 1)" font-size="15.5" textLength="52.53" lengthAdjust="spacing">SEDTM</text>
<text transform="translate(731.7 609.6) scale(0.56 1)" font-size="15.5" textLength="43.07" lengthAdjust="spacing">BATM</text>
<text transform="translate(740.6 657.9) scale(0.64 1)" font-size="15.5" textLength="68.21" lengthAdjust="spacing">MUXSEL</text>
<text transform="translate(788 545) scale(0.85 1)" font-size="15.5" textLength="16.47" lengthAdjust="spacing">16</text>
<text transform="translate(809.7 550) scale(0.85 1)" font-size="15.5" textLength="16.12" lengthAdjust="spacing">16</text>
<text transform="translate(788 561) scale(0.85 1)" font-size="15.5" textLength="16.47" lengthAdjust="spacing">15</text>
<text transform="translate(809.7 566) scale(0.85 1)" font-size="15.5" textLength="16.12" lengthAdjust="spacing">15</text>
<text transform="translate(788 577) scale(0.85 1)" font-size="15.5" textLength="16.47" lengthAdjust="spacing">14</text>
<text transform="translate(809.7 582) scale(0.85 1)" font-size="15.5" textLength="16.12" lengthAdjust="spacing">14</text>
<text transform="translate(788 593.5) scale(0.85 1)" font-size="15.5" textLength="16.47" lengthAdjust="spacing">13</text>
<text transform="translate(809.7 598.5) scale(0.85 1)" font-size="15.5" textLength="16.12" lengthAdjust="spacing">13</text>
<text transform="translate(788 609.5) scale(0.85 1)" font-size="15.5" textLength="16.47" lengthAdjust="spacing">12</text>
<text transform="translate(809.7 614.5) scale(0.85 1)" font-size="15.5" textLength="16.12" lengthAdjust="spacing">12</text>
<text transform="translate(788 626) scale(0.85 1)" font-size="15.5" textLength="16.47" lengthAdjust="spacing">11</text>
<text transform="translate(809.7 631) scale(0.85 1)" font-size="15.5" textLength="16.12" lengthAdjust="spacing">11</text>
<text transform="translate(788 642) scale(0.85 1)" font-size="15.5" textLength="16.47" lengthAdjust="spacing">10</text>
<text transform="translate(809.7 647) scale(0.85 1)" font-size="15.5" textLength="16.12" lengthAdjust="spacing">10</text>
<text transform="translate(795 657.9) scale(0.85 1)" font-size="15.5">9</text>
<text transform="translate(809.7 662.9) scale(0.85 1)" font-size="15.5">9</text>
<text transform="translate(859.4 543.6) scale(0.85 1)" font-size="15.5">1</text>
<text transform="translate(842.8 551.1) scale(0.85 1)" font-size="15.5">1</text>
<text transform="translate(859.4 561) scale(0.85 1)" font-size="15.5">2</text>
<text transform="translate(842.8 568.5) scale(0.85 1)" font-size="15.5">2</text>
<text transform="translate(859.4 575.3) scale(0.85 1)" font-size="15.5">3</text>
<text transform="translate(842.8 582.8) scale(0.85 1)" font-size="15.5">3</text>
<text transform="translate(859.4 591.5) scale(0.85 1)" font-size="15.5">4</text>
<text transform="translate(842.8 599) scale(0.85 1)" font-size="15.5">4</text>
<text transform="translate(859.4 607.8) scale(0.85 1)" font-size="15.5">5</text>
<text transform="translate(842.8 615.3) scale(0.85 1)" font-size="15.5">5</text>
<text transform="translate(859.4 624) scale(0.85 1)" font-size="15.5">6</text>
<text transform="translate(842.8 631.5) scale(0.85 1)" font-size="15.5">6</text>
<text transform="translate(859.4 639.4) scale(0.85 1)" font-size="15.5">7</text>
<text transform="translate(842.8 646.9) scale(0.85 1)" font-size="15.5">7</text>
<text transform="translate(859.4 656.6) scale(0.85 1)" font-size="15.5">8</text>
<text transform="translate(842.8 664.1) scale(0.85 1)" font-size="15.5">8</text>
<text transform="translate(720.8 660.5) scale(0.98 1)" font-size="15.5" textLength="13.78" lengthAdjust="spacing">J2</text>
<text transform="translate(728.4 775.7) scale(0.8 1)" font-size="15" font-family="Liberation Sans" stroke="#1a1a1a" stroke-width="0.25" textLength="55.62" lengthAdjust="spacing">ZIGBEE</text>
<text transform="translate(735.3 677) scale(0.85 1)" font-size="15.5">1</text>
<text transform="translate(735.3 692.5) scale(0.85 1)" font-size="15.5">2</text>
<text transform="translate(735.3 708.5) scale(0.85 1)" font-size="15.5">3</text>
<text transform="translate(735.3 724) scale(0.85 1)" font-size="15.5">4</text>
<text transform="translate(735.3 739) scale(0.85 1)" font-size="15.5">5</text>
<text transform="translate(735.3 754.5) scale(0.85 1)" font-size="15.5">6</text>
<text transform="translate(695.4 703.7) scale(0.82 1)" font-size="15.5" textLength="26.98" lengthAdjust="spacing">SDI</text>
<text transform="translate(695.4 719) scale(0.72 1)" font-size="15.5" textLength="31.82" lengthAdjust="spacing">SCL</text>
<text transform="translate(695.4 748.2) scale(0.66 1)" font-size="15.5" textLength="34.71" lengthAdjust="spacing">SDO</text>
<text x="616.5" y="663.3" font-size="14" font-style="italic">R</text>
<text x="625.18" y="663.3" font-size="10.5" textLength="15.52" lengthAdjust="spacingAndGlyphs">111</text>
<text transform="translate(654.2 664.7) scale(1 1)" font-size="15" stroke-width="0" textLength="27.2" lengthAdjust="spacing">0kΩ</text>
<text x="639.4" y="771.1" font-size="15.5" font-style="italic">C</text>
<text x="649.63" y="771.1" font-size="11" textLength="10.17" lengthAdjust="spacingAndGlyphs">17</text>
<text transform="translate(633.1 805.9) scale(1 1)" font-size="15" stroke-width="0" textLength="36.9" lengthAdjust="spacing">22μF</text>
<text x="69.4" y="527.7" font-size="15.5" font-style="italic">C</text>
<text x="79.63" y="527.7" font-size="11" textLength="8.37" lengthAdjust="spacingAndGlyphs">11</text>
<text transform="translate(69.4 543.5) scale(0.87 1)" font-size="15" stroke-width="0" textLength="34.42" lengthAdjust="spacing">68pF</text>
<text x="113.9" y="606.5" font-size="15.5" font-style="italic">C</text>
<text x="124.13" y="606.5" font-size="11" textLength="8.87" lengthAdjust="spacingAndGlyphs">12</text>
<text transform="translate(103.8 619.8) scale(0.87 1)" font-size="15" stroke-width="0" textLength="35.23" lengthAdjust="spacing">68pF</text>
<text transform="translate(149.5 575.3) scale(0.7 1)" font-size="15.5" textLength="18.94" lengthAdjust="spacing">Y1</text>
<text transform="translate(138.9 595.6) scale(1 1)" font-size="15" stroke-width="0" textLength="65.35" lengthAdjust="spacing">32.768kΩ</text>
<text transform="translate(28 776.8) scale(0.67 1)" font-size="15.5" textLength="124.2" lengthAdjust="spacing">ALLCHARCTRL</text>
<text transform="translate(157.2 886.9) rotate(-90) scale(0.68 1)" font-size="14.5" textLength="99.05" lengthAdjust="spacing">CHARCTRL0</text>
<text transform="translate(167.3 904.5) scale(0.7 1)" font-size="15.5" textLength="18.94" lengthAdjust="spacing">Q1</text>
<text transform="translate(167.3 919.7) scale(0.71 1)" font-size="15.5" textLength="82.52" lengthAdjust="spacing">MOSFET-N</text>
<text transform="translate(386 888.6) rotate(-90) scale(0.68 1)" font-size="14.5" textLength="97.87" lengthAdjust="spacing">CHARCTRL2</text>
<text transform="translate(401.8 903) scale(0.73 1)" font-size="15.5" textLength="19.23" lengthAdjust="spacing">Q3</text>
<text transform="translate(401.8 921) scale(0.71 1)" font-size="15.5" textLength="82.94" lengthAdjust="spacing">MOSFET-N</text>
<text transform="translate(533.8 890.5) scale(0.71 1)" font-size="15.5" textLength="84.69" lengthAdjust="spacing">LEDCTRL0</text>
<text transform="translate(625.9 860.2) rotate(-90) scale(0.72 1)" font-size="14.5" textLength="40.31" lengthAdjust="spacing">LED0</text>
<text transform="translate(638.6 884.1) scale(0.71 1)" font-size="15.5" textLength="18.94" lengthAdjust="spacing">Q5</text>
<text transform="translate(634 910.8) scale(0.71 1)" font-size="15.5" textLength="82.52" lengthAdjust="spacing">MOSFET-N</text>
<text transform="translate(680.6 890.5) scale(0.71 1)" font-size="15.5" textLength="83.56" lengthAdjust="spacing">LEDCTRL1</text>
<text transform="translate(770.9 858.1) rotate(-90) scale(0.72 1)" font-size="14.5" textLength="39.35" lengthAdjust="spacing">LED1</text>
<text transform="translate(778.7 885.5) scale(0.7 1)" font-size="15.5" textLength="18.94" lengthAdjust="spacing">Q6</text>
<text transform="translate(778 907) scale(0.71 1)" font-size="15.5" textLength="82.52" lengthAdjust="spacing">MOSFET-N</text>
<text transform="translate(828.8 886.5) scale(0.71 1)" font-size="15.5" textLength="84.69" lengthAdjust="spacing">LEDCTRL2</text>
<text transform="translate(915.3 855.1) rotate(-90) scale(0.72 1)" font-size="14.5" textLength="38.66" lengthAdjust="spacing">LED2</text>
<text transform="translate(920.9 885.5) scale(0.73 1)" font-size="15.5" textLength="19.5" lengthAdjust="spacing">Q7</text>
<text transform="translate(922.4 902.5) scale(0.71 1)" font-size="15.5" textLength="82.52" lengthAdjust="spacing">MOSFET-N</text>
</g>
</svg>
</body></html>
